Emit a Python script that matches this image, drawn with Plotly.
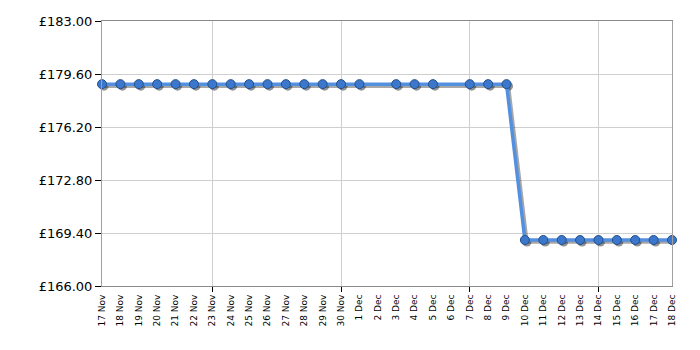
import plotly.graph_objects as go
import pandas as pd

dates = ["2023-11-17","2023-11-18","2023-11-19","2023-11-20","2023-11-21","2023-11-22",
         "2023-11-23","2023-11-24","2023-11-25","2023-11-26","2023-11-27","2023-11-28",
         "2023-11-29","2023-11-30","2023-12-01","2023-12-03","2023-12-04","2023-12-05",
         "2023-12-07","2023-12-08","2023-12-09","2023-12-10","2023-12-11","2023-12-12",
         "2023-12-13","2023-12-14","2023-12-15","2023-12-16","2023-12-17","2023-12-18"]
prices = [178.95]*21 + [168.95]*9

y_ticks = [166.00, 169.40, 172.80, 176.20, 179.60, 183.00]
y_labels = ["£%.2f" % v for v in y_ticks]
all_days = pd.date_range("2023-11-17", "2023-12-18", freq="D")
week_days = pd.date_range("2023-11-23", "2023-12-18", freq="7D")

x0, x1 = pd.Timestamp("2023-11-17"), pd.Timestamp("2023-12-18")
y0, y1 = 166.0, 183.0
dx = pd.Timedelta(hours=2.6)
dy = 0.13

FONT = "DejaVu Sans"
fig = go.Figure()

# invisible helpers so base and weekly axes are rendered
fig.add_trace(go.Scatter(x=dates, y=prices, xaxis="x", yaxis="y", mode="lines",
                         line=dict(width=0), hoverinfo="skip", showlegend=False))
fig.add_trace(go.Scatter(x=dates, y=prices, xaxis="x2", yaxis="y", mode="lines",
                         line=dict(width=0), hoverinfo="skip", showlegend=False))
# shadow (drawn on offset overlay axes)
fig.add_trace(go.Scatter(x=dates, y=prices, xaxis="x3", yaxis="y3", mode="lines+markers",
                         line=dict(color="rgba(60,60,60,0.45)", width=3.5),
                         marker=dict(size=9, color="rgba(40,40,40,0.5)"),
                         hoverinfo="skip", cliponaxis=False, showlegend=False))
# main series
fig.add_trace(go.Scatter(x=dates, y=prices, xaxis="x4", yaxis="y4", mode="lines+markers",
                         line=dict(color="#5490e0", width=3.5),
                         marker=dict(size=9, color="#3b78cc", line=dict(color="#244f8c", width=1)),
                         cliponaxis=False, showlegend=False))

fig.update_layout(
    width=700, height=350,
    margin=dict(l=102, r=28, t=21, b=64),
    paper_bgcolor="white", plot_bgcolor="white",
    font=dict(family=FONT, color="black"),
    xaxis=dict(range=[x0, x1], tickvals=all_days, tickformat="%-d %b", tickangle=-90,
               tickfont=dict(size=9, family=FONT), ticks="outside", ticklen=4, tickcolor="rgba(0,0,0,0)",
               showgrid=False,
               showline=True, linecolor="#8a8a8a", linewidth=1, mirror=True, zeroline=False),
    xaxis2=dict(range=[x0, x1], overlaying="x", tickvals=week_days, showticklabels=False,
                ticks="outside", ticklen=5, tickcolor="black", showgrid=True, gridcolor="#cfcfcf",
                showline=False, zeroline=False),
    xaxis3=dict(range=[x0 - dx, x1 - dx], overlaying="x", visible=False),
    xaxis4=dict(range=[x0, x1], overlaying="x", visible=False),
    yaxis=dict(range=[y0, y1], tickvals=y_ticks, ticktext=y_labels,
               tickfont=dict(size=13, family=FONT), ticks="outside", ticklen=6, tickcolor="black",
               showgrid=True, gridcolor="#cfcfcf", showline=True, linecolor="#a0a0a0",
               mirror=True, zeroline=False),
    yaxis3=dict(range=[y0 + dy, y1 + dy], overlaying="y", visible=False),
    yaxis4=dict(range=[y0, y1], overlaying="y", visible=False),
)

fig.write_html("out.html")
